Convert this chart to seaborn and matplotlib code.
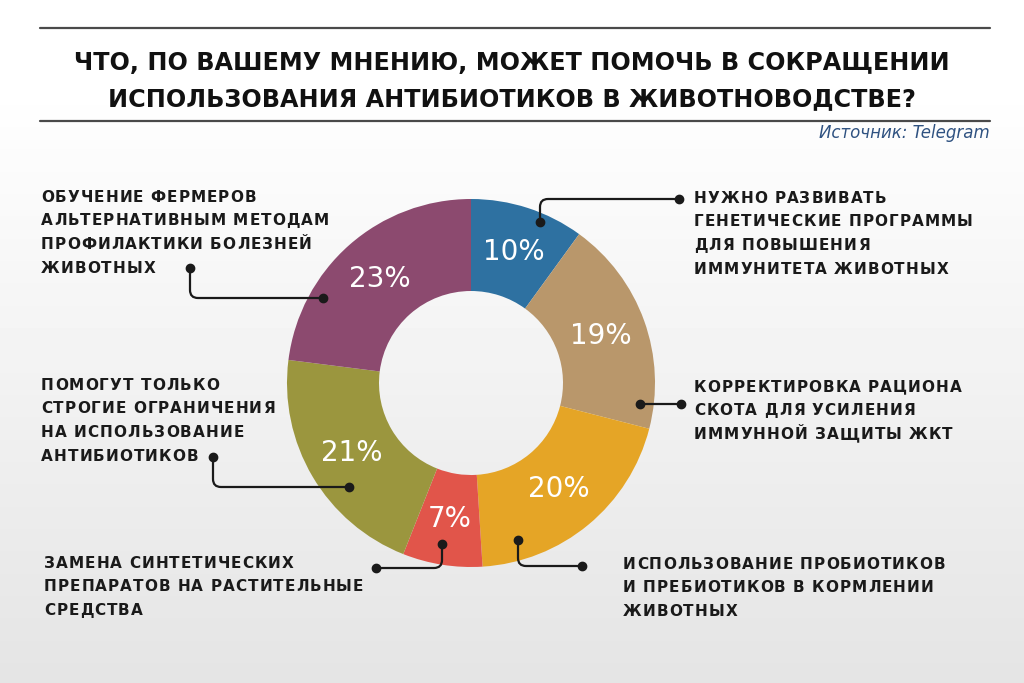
import numpy as np
import matplotlib
matplotlib.use("Agg")
import matplotlib.pyplot as plt
import seaborn as sns
from matplotlib.path import Path
from matplotlib.patches import PathPatch
from matplotlib.font_manager import FontProperties

# ---------------- data ----------------
categories = [
    "НУЖНО РАЗВИВАТЬ\nГЕНЕТИЧЕСКИЕ ПРОГРАММЫ\nДЛЯ ПОВЫШЕНИЯ\nИММУНИТЕТА ЖИВОТНЫХ",
    "КОРРЕКТИРОВКА РАЦИОНА\nСКОТА ДЛЯ УСИЛЕНИЯ\nИММУННОЙ ЗАЩИТЫ ЖКТ",
    "ИСПОЛЬЗОВАНИЕ ПРОБИОТИКОВ\nИ ПРЕБИОТИКОВ В КОРМЛЕНИИ\nЖИВОТНЫХ",
    "ЗАМЕНА СИНТЕТИЧЕСКИХ\nПРЕПАРАТОВ НА РАСТИТЕЛЬНЫЕ\nСРЕДСТВА",
    "ПОМОГУТ ТОЛЬКО\nСТРОГИЕ ОГРАНИЧЕНИЯ\nНА ИСПОЛЬЗОВАНИЕ\nАНТИБИОТИКОВ",
    "ОБУЧЕНИЕ ФЕРМЕРОВ\nАЛЬТЕРНАТИВНЫМ МЕТОДАМ\nПРОФИЛАКТИКИ БОЛЕЗНЕЙ\nЖИВОТНЫХ",
]
values = [10, 19, 20, 7, 21, 23]
colors = ["#2e71a1", "#b9976b", "#e5a526", "#e1554a", "#9b963e", "#8c4a6f"]
title_lines = ["ЧТО, ПО ВАШЕМУ МНЕНИЮ, МОЖЕТ ПОМОЧЬ В СОКРАЩЕНИИ",
               "ИСПОЛЬЗОВАНИЯ АНТИБИОТИКОВ В ЖИВОТНОВОДСТВЕ?"]
source = "Источник: Telegram"

# ---------------- layout ----------------
sns.set_theme(style="white")
plt.rcParams["font.family"] = ["DejaVu Sans"]
palette = sns.color_palette(colors)

W, H = 1024, 683
fig = plt.figure(figsize=(W / 100, H / 100), dpi=100)

# background gradient
bg = fig.add_axes([0, 0, 1, 1], zorder=0)
t = np.linspace(0, 1, H)
v = 1 - 0.105 * np.clip((t - 0.12) / 0.88, 0, 1)
bg.imshow(np.repeat(v[:, None], 2, axis=1), cmap="gray", vmin=0, vmax=1,
          extent=[0, W, H, 0], aspect="auto")
bg.axis("off")

# donut
cx, cy, R = 471, 383, 184
pax = fig.add_axes([(cx - R) / W, (H - cy - R) / H, 2 * R / W, 2 * R / H], zorder=1)
wedges, _, autotexts = pax.pie(
    values, colors=palette, startangle=90, counterclock=False, radius=1,
    wedgeprops=dict(width=0.5, linewidth=0),
    autopct=lambda p: f"{p:.0f}%", pctdistance=0.75,
    textprops=dict(color="white", fontsize=20),
)
pax.set_xlim(-1, 1)
pax.set_ylim(-1, 1)
pax.axis("off")

# overlay in pixel coordinates
ov = fig.add_axes([0, 0, 1, 1], zorder=2)
ov.set_xlim(0, W)
ov.set_ylim(H, 0)
ov.axis("off")
ov.patch.set_alpha(0)

ink = "#1a1a1a"
# rules and title
for y in (28, 121):
    ov.plot([40, 990], [y, y], color="#4a4a4a", lw=1.6)
for i, line in enumerate(title_lines):
    ov.text(512, 63 + 36 * i, line, ha="center", va="center",
            fontsize=17.2, fontweight="bold", color="#111111")
ov.text(990, 133, source, ha="right", va="center", fontsize=12,
        style="italic", color="#2f5281")


def connector(p0, corner, p2, r=8):
    p0, corner, p2 = map(np.array, (p0, corner, p2))
    if np.allclose(corner, p0) or np.allclose(corner, p2):
        verts = [p0, p2]
        codes = [Path.MOVETO, Path.LINETO]
    else:
        d1 = (corner - p0) / np.linalg.norm(corner - p0)
        d2 = (p2 - corner) / np.linalg.norm(p2 - corner)
        verts = [p0, corner - d1 * r, corner, corner + d2 * r, p2]
        codes = [Path.MOVETO, Path.LINETO, Path.CURVE3, Path.CURVE3, Path.LINETO]
    ov.add_patch(PathPatch(Path(verts, codes), fill=False, lw=1.6, color=ink))
    ov.plot([p0[0], p2[0]], [p0[1], p2[1]], "o", ms=6, color=ink, lw=0)


connectors = [
    ((540, 222), (540, 199), (679, 199)),
    ((640, 404), (660, 404), (681, 404)),
    ((518, 540), (518, 566), (582, 566)),
    ((442, 544), (442, 568), (376, 568)),
    ((349, 487), (213, 487), (213, 457)),
    ((323, 298), (190, 298), (190, 268)),
]
for c in connectors:
    connector(*c)

# letter-spaced labels
renderer = fig.canvas.get_renderer()
lab_prop = FontProperties(family="DejaVu Sans", weight="bold", size=11)
track = 1.05


def tracked(x, y, s, prop, trk):
    for ch in s:
        if ch != " ":
            ov.text(x, y, ch, fontproperties=prop, ha="left", va="baseline", color=ink)
        w, _, _ = renderer.get_text_width_height_descent(ch, prop, ismath=False)
        x += w + trk


label_pos = [(694, 197), (694, 386), (623, 563), (44, 562), (41, 384), (41, 196)]
step = 23.7
for text, (x, y) in zip(categories, label_pos):
    for j, line in enumerate(text.split("\n")):
        tracked(x, y + j * step + 5.6, line, lab_prop, track)

fig.savefig("out.png", dpi=100)
